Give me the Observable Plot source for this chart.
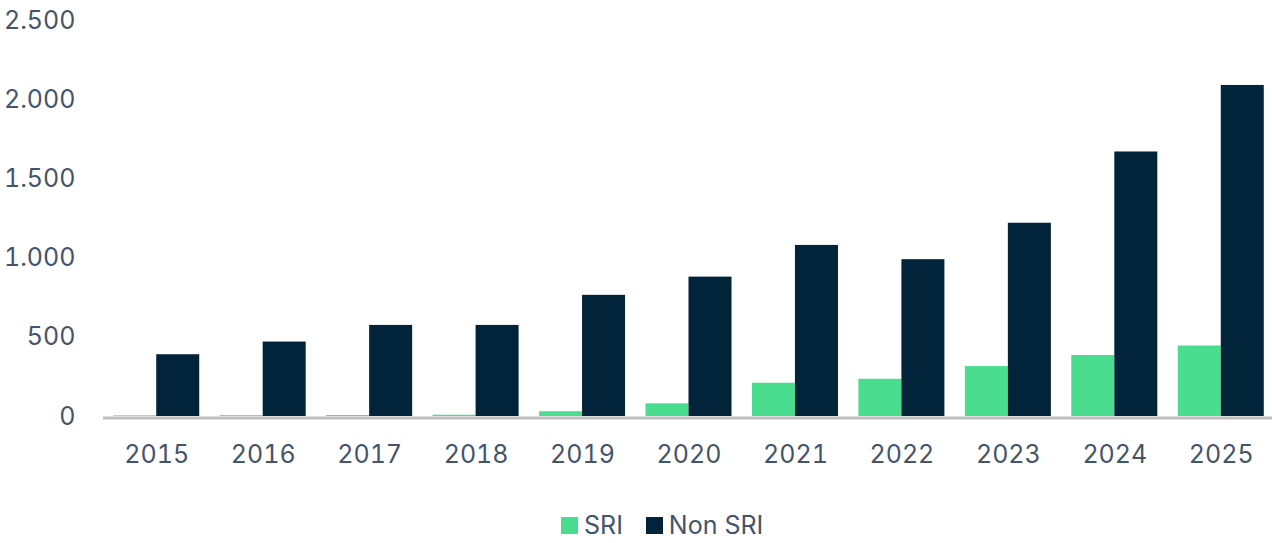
<!DOCTYPE html>
<html>
<head>
<meta charset="utf-8">
<script src="https://cdn.jsdelivr.net/npm/d3@7"></script>
<script src="https://cdn.jsdelivr.net/npm/@observablehq/plot@0.6"></script>
<style>
  html, body { margin: 0; padding: 0; background: #fff; }
  body { width: 1272px; height: 543px; overflow: hidden; font-family: Inter, sans-serif; }
  #legend { display: flex; align-items: center; padding-left: 561px; margin-top: 33px; font-size: 25px; color: #44546A; line-height: 1; }
  .item { display: flex; align-items: center; margin-right: 23px; }
  .sw { width: 17px; height: 17px; margin-right: 6px; }
</style>
</head>
<body>
<div id="chart"></div>
<div id="legend"></div>
<script>
const years = [2015, 2016, 2017, 2018, 2019, 2020, 2021, 2022, 2023, 2024, 2025];
const sri = [4, 5, 6, 8, 30, 80, 210, 235, 315, 385, 445];
const nonSri = [390, 470, 575, 575, 765, 880, 1080, 990, 1220, 1670, 2090];
const seriesNames = ["SRI", "Non SRI"];
const seriesColors = ["#4ADC8F", "#01243A"];
const yTicks = [0, 500, 1000, 1500, 2000, 2500];

const data = years.flatMap((y, i) => [
  {year: y, series: seriesNames[0], value: sri[i]},
  {year: y, series: seriesNames[1], value: nonSri[i]}
]);

const fmt = d3.formatLocale({decimal: ",", thousands: ".", grouping: [3], currency: ["", ""]}).format(",");
const half = 0.404;

const chart = Plot.plot({
  width: 1272,
  height: 480,
  marginTop: 20,
  marginBottom: 64,
  marginLeft: 103,
  marginRight: -2,
  style: {fontFamily: "Inter, sans-serif", fontSize: "25px", color: "#44546A", background: "#fff"},
  x: {type: "linear", domain: [2014.5, 2025.5], ticks: years, tickFormat: d => String(d), tickSize: 0, tickPadding: 29, label: null},
  y: {domain: [0, 2500], ticks: yTicks, tickFormat: fmt, tickSize: 0, tickPadding: 28, label: null},
  color: {domain: seriesNames, range: seriesColors},
  marks: [
    Plot.rectY(data, {
      x1: d => d.series === seriesNames[0] ? d.year - half : d.year,
      x2: d => d.series === seriesNames[0] ? d.year : d.year + half,
      y1: 0,
      y2: "value",
      fill: "series"
    }),
    Plot.ruleY([0], {stroke: "#BFBFBF", strokeWidth: 3, dy: 1.5})
  ]
});
document.getElementById("chart").appendChild(chart);

const legend = document.getElementById("legend");
seriesNames.forEach((name, i) => {
  const item = document.createElement("div");
  item.className = "item";
  const sw = document.createElement("div");
  sw.className = "sw";
  sw.style.background = seriesColors[i];
  const label = document.createElement("span");
  label.textContent = name;
  item.appendChild(sw);
  item.appendChild(label);
  legend.appendChild(item);
});
</script>
</body>
</html>
